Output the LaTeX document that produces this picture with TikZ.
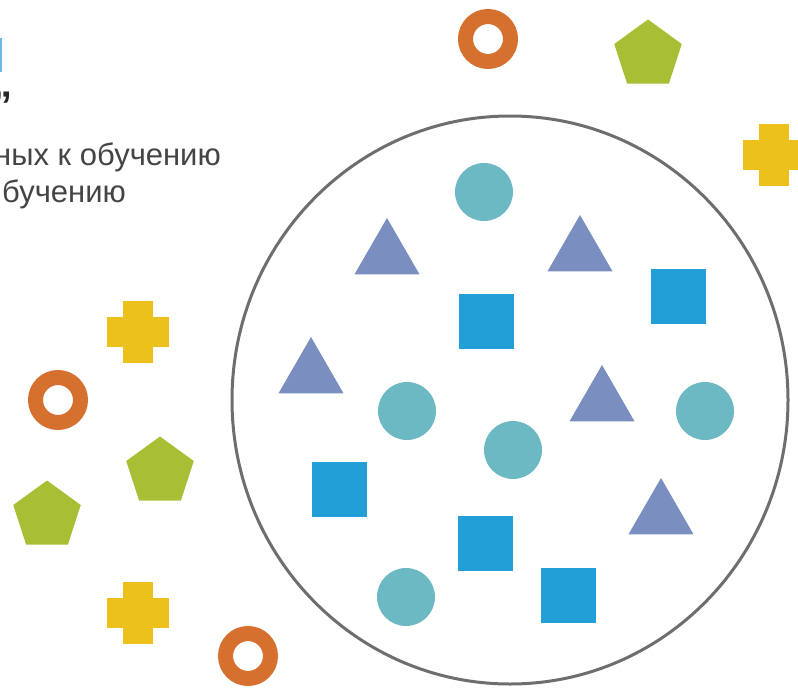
\documentclass[tikz,border=0pt]{standalone}
\usepackage{fontspec}
\setmainfont{Liberation Sans}
\usetikzlibrary{shapes.geometric}
\definecolor{ballcol}{HTML}{6CB9C4}
\definecolor{tricol}{HTML}{7A8EC0}
\definecolor{sqcol}{HTML}{239FD8}
\definecolor{ringcol}{HTML}{D5702E}
\definecolor{pentcol}{HTML}{A8BF35}
\definecolor{crosscol}{HTML}{EDC11C}
\definecolor{rimcol}{HTML}{6E6E6E}
\definecolor{textcol}{HTML}{444444}
\definecolor{headcol}{HTML}{6FB6E6}

\tikzset{
  inball/.style={circle,fill=ballcol,minimum size=58pt,inner sep=0pt},
  intri/.style={regular polygon,regular polygon sides=3,fill=tricol,minimum size=75pt,inner sep=0pt},
  insq/.style={rectangle,fill=sqcol,minimum size=55pt,inner sep=0pt},
  outring/.style={circle,draw=ringcol,line width=15pt,minimum size=45pt,inner sep=0pt},
  outpent/.style={regular polygon,regular polygon sides=5,fill=pentcol,minimum size=71pt,inner sep=0pt},
  outcross/.pic={
    \fill[crosscol] (-15,-31) rectangle (15,31);
    \fill[crosscol] (-31,-15) rectangle (31,15);
  },
  lbl/.style={text=textcol,font=\fontsize{31}{37}\selectfont,inner sep=0pt}
}

\begin{document}
\begin{tikzpicture}[x=1pt,y=-1pt]
  \useasboundingbox (0,0) rectangle (798,688);
  \clip (0,0) rectangle (798,688);

  % cut-off heading and caption
  \fill[headcol] (0,38) rectangle (2,72);
  \node[anchor=base east,inner sep=0pt,font=\bfseries\fontsize{40}{46}\selectfont,text=black!85] (quote) at (13,119) {”};
  \node[lbl,anchor=base east] (cap1) at (221,165) {ных к обучению};
  \node[lbl,anchor=base east] (cap2) at (126,202) {бучению};

  \draw[rimcol,line width=3pt] (510,400) ellipse [x radius=278pt,y radius=284pt];

  % inside
  \node[inball] (b1) at (484,192) {};
  \node[inball] (b2) at (407,411) {};
  \node[inball] (b3) at (705,411) {};
  \node[inball] (b4) at (513,450) {};
  \node[inball] (b5) at (406,597) {};
  \node[intri] (t1) at (387,255.5) {};
  \node[intri] (t2) at (580,252.5) {};
  \node[intri] (t3) at (311,374.5) {};
  \node[intri] (t4) at (602,402.5) {};
  \node[intri] (t5) at (661,515.5) {};
  \node[insq] (s1) at (486,321) {};
  \node[insq] (s2) at (678,296) {};
  \node[insq] (s3) at (339,489) {};
  \node[insq] (s4) at (485,543) {};
  \node[insq] (s5) at (568,595) {};

  % outside
  \node[outring] (r1) at (488,39) {};
  \node[outring] (r2) at (58,400) {};
  \node[outring] (r3) at (248,656) {};
  \node[outpent] (p1) at (648,55) {};
  \node[outpent] (p2) at (160,472) {};
  \node[outpent] (p3) at (47,516) {};
  \pic (c1) at (774,155) {outcross};
  \pic (c2) at (138,332) {outcross};
  \pic (c3) at (138,613) {outcross};
\end{tikzpicture}
\end{document}
